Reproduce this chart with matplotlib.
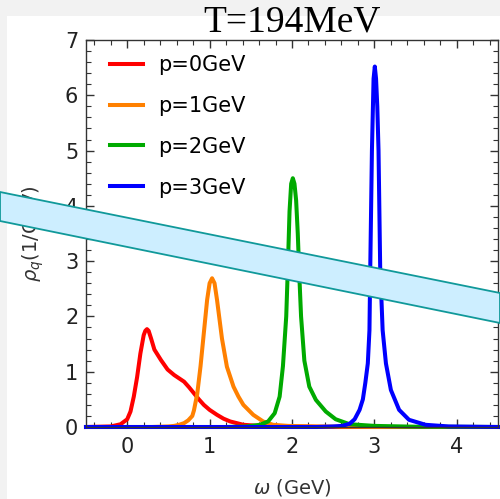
import numpy as np
import matplotlib
matplotlib.use("Agg")
import matplotlib.pyplot as plt
from matplotlib.patches import Rectangle, Polygon
from matplotlib.ticker import MultipleLocator

# 数据
w_p0 = [-0.5, -0.2, -0.08, 0.0, 0.04, 0.08, 0.12, 0.16, 0.2, 0.22, 0.24, 0.26, 0.29, 0.33,
        0.41, 0.49, 0.57, 0.63, 0.69, 0.75, 0.81, 0.87, 0.93, 1.0, 1.09, 1.17, 1.25, 1.41,
        1.6, 1.9, 2.5, 4.5]
rho_p0 = [0.0, 0.01, 0.05, 0.14, 0.28, 0.55, 0.9, 1.33, 1.66, 1.74, 1.77, 1.74, 1.6, 1.4,
          1.21, 1.04, 0.94, 0.88, 0.82, 0.72, 0.61, 0.5, 0.4, 0.31, 0.22, 0.15, 0.1, 0.04,
          0.02, 0.01, 0.0, 0.0]

w_p1 = [-0.5, 0.3, 0.5, 0.57, 0.63, 0.69, 0.74, 0.79, 0.81, 0.85, 0.89, 0.93, 0.97, 1.0,
        1.03, 1.06, 1.09, 1.12, 1.15, 1.21, 1.29, 1.35, 1.41, 1.53, 1.65, 1.77, 1.95, 2.3,
        3.0, 4.5]
rho_p1 = [0.0, 0.0, 0.01, 0.02, 0.04, 0.07, 0.12, 0.2, 0.3, 0.6, 1.1, 1.7, 2.3, 2.6,
          2.69, 2.6, 2.3, 1.95, 1.6, 1.09, 0.73, 0.55, 0.4, 0.22, 0.1, 0.04, 0.02, 0.01,
          0.0, 0.0]

w_p2 = [-0.5, 1.2, 1.45, 1.61, 1.71, 1.79, 1.85, 1.89, 1.93, 1.95, 1.97, 1.99, 2.01, 2.03,
        2.05, 2.07, 2.09, 2.11, 2.15, 2.21, 2.29, 2.41, 2.53, 2.7, 3.0, 3.5, 4.5]
rho_p2 = [0.0, 0.0, 0.01, 0.04, 0.1, 0.25, 0.55, 1.1, 2.0, 2.9, 3.9, 4.4, 4.5, 4.4,
          4.1, 3.5, 2.7, 2.0, 1.2, 0.73, 0.49, 0.28, 0.14, 0.05, 0.02, 0.005, 0.0]

w_p3 = [-0.5, 2.3, 2.5, 2.61, 2.7, 2.76, 2.82, 2.86, 2.89, 2.92, 2.94, 2.95, 2.97, 2.99,
        3.005, 3.02, 3.035, 3.05, 3.07, 3.1, 3.14, 3.2, 3.3, 3.42, 3.62, 3.9, 4.5]
rho_p3 = [0.0, 0.0, 0.01, 0.02, 0.06, 0.14, 0.31, 0.5, 0.8, 1.15, 1.75, 2.9, 5.0, 6.3,
          6.52, 6.3, 5.8, 5.0, 2.9, 1.75, 1.15, 0.67, 0.31, 0.13, 0.04, 0.01, 0.0]

labels = ["p=0GeV", "p=1GeV", "p=2GeV", "p=3GeV"]
colors = ["#ff0000", "#ff8000", "#00aa00", "#0000ff"]
title = "T=194MeV"

W, H = 500, 499
fig = plt.figure(figsize=(W / 100, H / 100), dpi=100, facecolor="#f2f2f2")

# 白色面板
fig.patches.append(Rectangle((7 / W, 0), 1 - 7 / W, 1 - 16 / H, transform=fig.transFigure,
                             facecolor="white", edgecolor="none", zorder=-5))

ax = fig.add_axes([86 / W, 1 - 427 / H, (498 - 86) / W, (427 - 40) / H])
ax.set_facecolor("white")

for w, r, c, lab in zip([w_p0, w_p1, w_p2, w_p3], [rho_p0, rho_p1, rho_p2, rho_p3], colors, labels):
    ax.plot(w, r, color=c, lw=2.9, label=lab, clip_on=False, solid_joinstyle="round")

ax.set_xlim(-0.5, 4.5)
ax.set_ylim(0, 7)
ax.xaxis.set_major_locator(MultipleLocator(1))
ax.xaxis.set_minor_locator(MultipleLocator(0.2))
ax.yaxis.set_major_locator(MultipleLocator(1))
ax.yaxis.set_minor_locator(MultipleLocator(0.2))
ax.tick_params(which="both", direction="in", top=True, right=True, color="#333333",
               labelsize=15, labelcolor="#222222")
ax.tick_params(which="major", length=6, width=1)
ax.tick_params(which="minor", length=3.5, width=0.8)
ax.tick_params(axis="x", pad=7.5)
ax.tick_params(axis="y", pad=5.5)
for s in ax.spines.values():
    s.set_color("#333333")
    s.set_linewidth(1)

ax.set_xlabel(r"$\omega$ (GeV)", fontsize=14, color="#333333", labelpad=14)
ax.set_ylabel(r"$\rho_q$(1/GeV)", fontsize=14, color="#333333", labelpad=14)
ax.set_title(title, fontsize=27, family="Liberation Serif", pad=3)

ax.legend(loc="upper left", bbox_to_anchor=(24 / 412, 1 - 15 / 387), frameon=False,
          fontsize=15, borderpad=0, borderaxespad=0, handlelength=1.6,
          handletextpad=0.72, labelspacing=1.0)

# 遮挡色带
band = [(0, 1 - 192 / H), (1, 1 - 293 / H), (1, 1 - 323 / H), (0, 1 - 221 / H)]
fig.patches.append(Polygon(band, closed=True, transform=fig.transFigure,
                           facecolor="#cdeeff", edgecolor="#10999a", lw=1.3, zorder=10))

fig.savefig("out.png", dpi=100, facecolor=fig.get_facecolor())
